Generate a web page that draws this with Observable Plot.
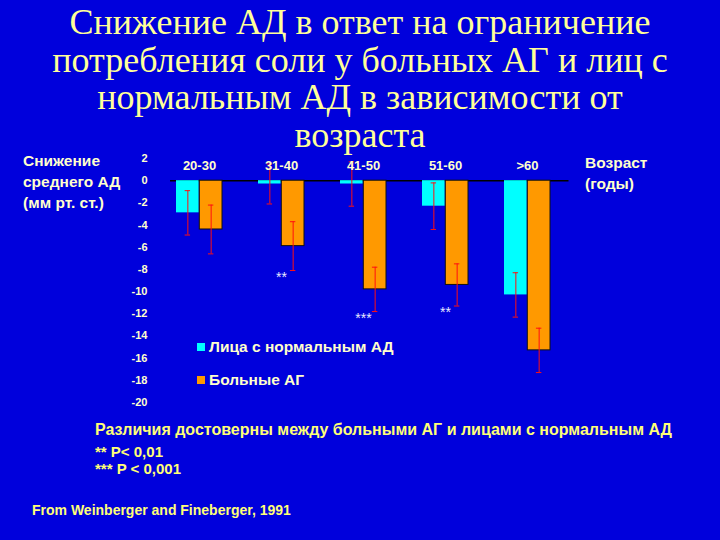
<!DOCTYPE html>
<html>
<head>
<meta charset="utf-8">
<script src="https://cdn.jsdelivr.net/npm/d3@7"></script>
<script src="https://cdn.jsdelivr.net/npm/@observablehq/plot@0.6"></script>
<style>
  html, body { margin: 0; padding: 0; }
  body { width: 720px; height: 540px; background: #0000dc; overflow: hidden; position: relative; font-family: "Liberation Sans", Arial, sans-serif; }
  .abs { position: absolute; white-space: nowrap; }
  #title { left: 0; top: 4px; width: 720px; text-align: center; font-family: "Liberation Serif", "DejaVu Serif", "Times New Roman", serif; font-size: 36px; line-height: 37.5px; color: #ffff99; z-index: 2; }
  .lbl { color: #ffffcc; font-weight: bold; font-size: 15.5px; line-height: 21px; z-index: 2; }
  .leg { color: #ffffcc; font-weight: bold; font-size: 15.5px; z-index: 2; }
  .sw { display: inline-block; width: 8px; height: 8px; margin-right: 4px; vertical-align: 1px; }
  .note { color: #ffff77; font-weight: bold; z-index: 2; }
  #chart { position: absolute; left: 0; top: 0; z-index: 1; }
</style>
</head>
<body>
<div id="title" class="abs">Снижение АД в ответ на ограничение<br>потребления соли у больных АГ и лиц с<br>нормальным АД в зависимости от<br>возраста</div>
<div class="abs lbl" style="left:23px; top:150px;">Снижение<br>среднего АД<br>(мм рт. ст.)</div>
<div class="abs lbl" style="left:585px; top:152px;">Возраст<br>(годы)</div>
<div id="legend1" class="abs leg" style="left:197px; top:338px;"></div>
<div id="legend2" class="abs leg" style="left:197px; top:371px;"></div>
<div class="abs note" style="left:95px; top:421px; font-size:16px;">Различия достоверны между больными АГ и лицами с нормальным АД</div>
<div class="abs note" style="left:95px; top:443px; font-size:15px;">** P&lt; 0,01</div>
<div class="abs note" style="left:95px; top:460px; font-size:15px;">*** P &lt; 0,001</div>
<div class="abs note" style="left:32px; top:502px; font-size:14px;">From Weinberger and Fineberger, 1991</div>
<div id="chart"></div>
<script>
// ---- data ----
const ages = ["20-30", "31-40", "41-50", "51-60", ">60"];
const normalValues = [-2.9, -0.3, -0.3, -2.3, -10.3];
const patientValues = [-4.4, -5.9, -9.8, -9.4, -15.3];
const normalErrors = [2.0, 1.8, 2.0, 2.1, 2.0];
const patientErrors = [2.2, 2.2, 2.0, 1.9, 2.0];
const significance = ["", "**", "***", "**", ""];
const yTicks = [2, 0, -2, -4, -6, -8, -10, -12, -14, -16, -18, -20];
const seriesNames = ["Лица с нормальным АД", "Больные АГ"];
const seriesColors = ["#00ffff", "#ff9900"];

// ---- build rows ----
const normalRows = ages.map((a, i) => ({age: a, value: normalValues[i], err: normalErrors[i]}));
const patientRows = ages.map((a, i) => ({age: a, value: patientValues[i], err: patientErrors[i], sig: significance[i]}));

// ---- layout ----
const W = 720, H = 540, mL = 157, mR = 151.5, mT = 158, mB = 138;
const padIn = 0.434, padOut = 0.217;
const step = (W - mL - mR) / (ages.length - padIn + 2 * padOut);
const bw = step * (1 - padIn);
const half = bw / 2;
const cap = 3;
const errColor = "#ff1010";

const chart = Plot.plot({
  width: W, height: H,
  marginLeft: mL, marginRight: mR, marginTop: mT, marginBottom: mB,
  style: {background: "transparent", color: "#ffffcc", fontFamily: "Liberation Sans, Arial, sans-serif", fontWeight: "bold"},
  x: {domain: ages, paddingInner: padIn, paddingOuter: padOut, axis: null},
  y: {domain: [-20, 2], axis: null},
  marks: [
    Plot.ruleY([0], {stroke: "#000000", strokeWidth: 1.5, insetLeft: 13}),
    Plot.barY(normalRows, {x: "age", y: "value", fill: seriesColors[0], insetRight: half}),
    Plot.barY(patientRows, {x: "age", y: "value", fill: seriesColors[1], insetLeft: half, stroke: "#101010", strokeWidth: 1}),
    Plot.ruleX(normalRows, {x: "age", y1: d => d.value - d.err, y2: d => d.value + d.err, dx: -half / 2, stroke: errColor, strokeWidth: 1}),
    Plot.ruleX(patientRows, {x: "age", y1: d => d.value - d.err, y2: d => d.value + d.err, dx: half / 2, stroke: errColor, strokeWidth: 1}),
    Plot.tickY(normalRows, {x: "age", y: d => d.value - d.err, insetLeft: half / 2 - cap, insetRight: bw - half / 2 - cap, stroke: errColor}),
    Plot.tickY(normalRows, {x: "age", y: d => d.value + d.err, insetLeft: half / 2 - cap, insetRight: bw - half / 2 - cap, stroke: errColor}),
    Plot.tickY(patientRows, {x: "age", y: d => d.value - d.err, insetLeft: bw - half / 2 - cap, insetRight: half / 2 - cap, stroke: errColor}),
    Plot.tickY(patientRows, {x: "age", y: d => d.value + d.err, insetLeft: bw - half / 2 - cap, insetRight: half / 2 - cap, stroke: errColor}),
    Plot.text(patientRows.filter(d => d.sig), {x: "age", y: d => d.value - d.err, text: "sig", dy: 7, fill: "#e8e8ff", fontSize: 14, fontWeight: "normal"}),
    Plot.axisY({ticks: yTicks, tickSize: 0, tickPadding: 10, tickFormat: d => String(d), fontSize: 11, fontWeight: "bold", fill: "#ffffcc", label: null}),
    Plot.axisX({anchor: "top", tickSize: 0, tickPadding: -11, fontSize: 13, fontWeight: "bold", fill: "#ffffcc", label: null})
  ]
});
document.getElementById("chart").appendChild(chart);

// ---- legend ----
[["legend1", 0], ["legend2", 1]].forEach(([id, i]) => {
  const el = document.getElementById(id);
  const sw = document.createElement("span");
  sw.className = "sw";
  sw.style.background = seriesColors[i];
  el.appendChild(sw);
  el.appendChild(document.createTextNode(seriesNames[i]));
});
</script>
</body>
</html>
